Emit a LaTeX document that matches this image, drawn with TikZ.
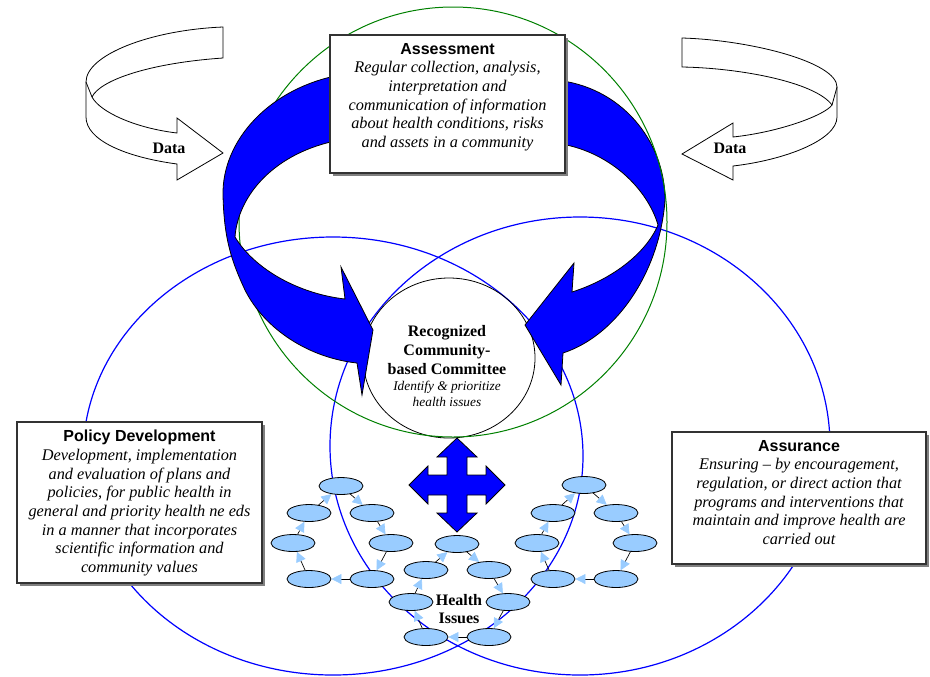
\documentclass[tikz,border=0pt]{standalone}
\usepackage{fontspec}
\setmainfont{Liberation Serif}
\setsansfont{Liberation Sans}
\usepackage{tikz}
\usetikzlibrary{calc, shapes, arrows, arrows.meta, shadows}
\definecolor{hiblue}{RGB}{153,204,255}
\definecolor{ringgreen}{RGB}{0,128,0}

\begin{document}
\begin{tikzpicture}[x=0.75pt,y=-0.75pt]
\tikzstyle{panel}=[draw=black!80,line width=1pt,fill=white,drop shadow={shadow xshift=2.25pt,shadow yshift=-2.25pt,fill=black!50,opacity=1}]
\tikzstyle{body}=[align=center,inner sep=0pt,font=\fontsize{12.2}{14}\selectfont\itshape]
\tikzstyle{head}=[font=\bfseries\fontsize{12}{14}\selectfont,align=center,inner sep=0pt]
\tikzstyle{issue}=[ellipse,draw,fill=hiblue,minimum width=33pt,minimum height=12.75pt,inner sep=0pt,line width=0.6pt]
\tikzstyle{cyc}=[line width=0.5pt,-{Triangle[length=7.5pt,width=7.5pt,color=hiblue]}]
\tikzstyle{bigarrow}=[fill=blue,draw=black,line width=0.6pt]
\useasboundingbox (0,0) rectangle (930,676);

% the three rings and the committee
\draw[blue,line width=0.9pt] (333,456) ellipse [x radius=250,y radius=219];
\draw[blue,line width=0.9pt] (580,446) ellipse [x radius=250,y radius=229];
\node[draw,ellipse,minimum width=129pt,minimum height=120pt,line width=0.6pt] (C) at (449,358) {};

% curved arrows into the committee
\draw[bigarrow] (555,80) .. controls (620,86) and (665,140) .. (665,200)
  .. controls (660,270) and (618,335) .. (563,353)
  -- (561,385) -- (525,325) -- (574,263) -- (572,292)
  .. controls (610,280) and (645,255) .. (658,225)
  .. controls (648,190) and (610,150) .. (555,143) -- cycle;
\draw[ringgreen,line width=0.75pt] (453,222) ellipse [x radius=214,y radius=215];
\draw[bigarrow] (340,75) .. controls (270,88) and (222,140) .. (223,195)
  .. controls (224,240) and (232,262) .. (245,290)
  .. controls (265,330) and (310,358) .. (357,363)
  -- (362,395) -- (373,330) -- (341,267) -- (345,299)
  .. controls (300,294) and (255,270) .. (235,237)
  .. controls (238,195) and (275,152) .. (340,140) -- cycle;

% data arrows
\draw[fill=white,line width=0.6pt] (223,27) -- (223,58)
  .. controls (150,63) and (100,80) .. (92,97)
  .. controls (100,112) and (135,128) .. (177,133)
  -- (177,118) -- (223,153) -- (177,180) -- (177,164)
  .. controls (125,157) and (86,140) .. (86,117) -- (86,82)
  .. controls (86,55) and (150,30) .. (223,27) -- cycle;
\draw[line width=0.6pt] (86,82) -- (92,97);
\draw[fill=white,line width=0.6pt] (682,38)
  .. controls (750,40) and (837,62) .. (837,87) -- (837,117)
  .. controls (837,140) and (785,160) .. (733,166)
  -- (733,180) -- (682,154) -- (733,123) -- (733,137)
  .. controls (780,132) and (825,115) .. (832,105)
  .. controls (815,82) and (740,68) .. (682,67) -- cycle;
\draw[line width=0.6pt] (832,105) -- (837,87);
\node[head] (DataL) at (169,148) {Data};
\node[head] (DataR) at (730,148) {Data};

% boxes
\node[panel,minimum width=176.25pt,minimum height=103.5pt] (Asm) at (447.5,104) {};
\node[body,anchor=north] (AsmT) at (447.5,43) {{\upshape\sffamily\bfseries\fontsize{12}{14}\selectfont Assessment}\\
  Regular collection, analysis,\\ interpretation and\\ communication of information\\
  about health conditions, risks\\ and assets in a community};
\node[panel,minimum width=183.75pt,minimum height=120.75pt] (Pol) at (139.5,502.5) {};
\node[body,anchor=north] (PolT) at (139.5,430) {{\upshape\sffamily\bfseries\fontsize{12}{14}\selectfont Policy Development}\\
  Development, implementation\\ and evaluation of plans and\\ policies, for public health in\\
  general and priority health ne eds\\ in a manner that incorporates\\ scientific information and\\ community values};
\node[panel,minimum width=190.5pt,minimum height=99pt] (Asr) at (799,498) {};
\node[body,anchor=north] (AsrT) at (799,440) {{\upshape\sffamily\bfseries\fontsize{12}{14}\selectfont Assurance}\\
  Ensuring -- by encouragement,\\ regulation, or direct action that\\ programs and interventions that\\
  maintain and improve health are\\ carried out};

% committee text
\node[head] (CT) at (447,350) {Recognized\\Community-\\based Committee};
\node[align=center,inner sep=0pt,font=\itshape\fontsize{10}{11.5}\selectfont] (CN) at (447,394) {Identify \& prioritize\\health issues};

% four way arrow
\draw[bigarrow] (457,438) -- (477,457) -- (467,457) -- (467,475) -- (486,475) -- (486,466)
  -- (505,485) -- (486,504) -- (486,495) -- (467,495) -- (467,513) -- (477,513)
  -- (457,532) -- (437,513) -- (447,513) -- (447,495) -- (428,495) -- (428,504)
  -- (409,485) -- (428,466) -- (428,475) -- (447,475) -- (447,457) -- (437,457) -- cycle;

% health issue cycles
\node[issue] (P_1) at (341,486) {};
\node[issue] (P_2) at (372,513) {};
\node[issue] (P_3) at (391,543) {};
\node[issue] (P_4) at (372,579) {};
\node[issue] (P_5) at (309,579) {};
\node[issue] (P_6) at (293,543) {};
\node[issue] (P_7) at (309,513) {};
\node[issue] (H_1) at (457,544) {};
\node[issue] (H_2) at (489,570) {};
\node[issue] (H_3) at (508,602) {};
\node[issue] (H_4) at (489,637) {};
\node[issue] (H_5) at (426,637) {};
\node[issue] (H_6) at (411,602) {};
\node[issue] (H_7) at (426,570) {};
\node[issue] (A_1) at (584,485) {};
\node[issue] (A_2) at (616,513) {};
\node[issue] (A_3) at (635,543) {};
\node[issue] (A_4) at (616,579) {};
\node[issue] (A_5) at (553,579) {};
\node[issue] (A_6) at (537,543) {};
\node[issue] (A_7) at (553,513) {};
\draw[cyc] (P_1) -- (P_2); \draw[cyc] (P_2) -- (P_3); \draw[cyc] (P_3) -- (P_4); \draw[cyc] (P_4) -- (P_5);
\draw[cyc] (P_5) -- (P_6); \draw[cyc] (P_6) -- (P_7); \draw[cyc] (P_7) -- (P_1);
\draw[cyc] (H_1) -- (H_2); \draw[cyc] (H_2) -- (H_3); \draw[cyc] (H_3) -- (H_4); \draw[cyc] (H_4) -- (H_5);
\draw[cyc] (H_5) -- (H_6); \draw[cyc] (H_6) -- (H_7); \draw[cyc] (H_7) -- (H_1);
\draw[cyc] (A_1) -- (A_2); \draw[cyc] (A_2) -- (A_3); \draw[cyc] (A_3) -- (A_4); \draw[cyc] (A_4) -- (A_5);
\draw[cyc] (A_5) -- (A_6); \draw[cyc] (A_6) -- (A_7); \draw[cyc] (A_7) -- (A_1);
\node[head] (HI) at (459,609) {Health\\Issues};
\end{tikzpicture}
\end{document}
